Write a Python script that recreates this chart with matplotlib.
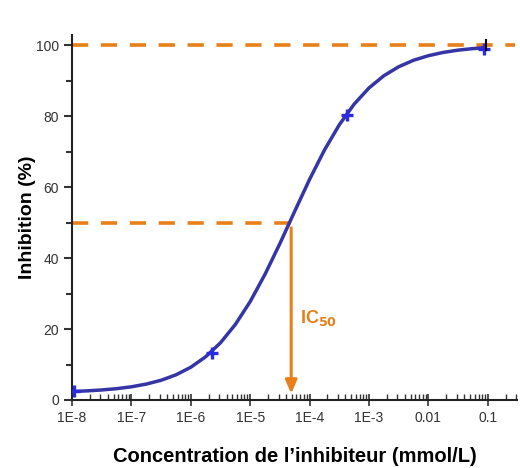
import matplotlib
matplotlib.use("Agg")
import matplotlib.pyplot as plt
from matplotlib.ticker import LogLocator, FixedLocator, NullFormatter

plt.rcParams['font.family'] = ['Liberation Sans', 'DejaVu Sans']

# measured points
conc_pts = [1.1e-8, 2.3e-6, 4.3e-4, 0.087]
inhib_pts = [2.4, 13.2, 80.3, 98.9]

# fitted curve (log10 concentration, % inhibition)
curve_logc = [-7.95, -7.75, -7.5, -7.25, -7.0, -6.75, -6.5, -6.25, -6.0, -5.75,
              -5.5, -5.25, -5.0, -4.75, -4.5, -4.25, -4.0, -3.75, -3.5, -3.25,
              -3.0, -2.75, -2.5, -2.25, -2.0, -1.75, -1.5, -1.25, -1.05]
curve_inhib = [2.42, 2.57, 2.83, 3.19, 3.72, 4.48, 5.56, 7.09, 9.23, 12.18,
               16.13, 21.28, 27.73, 35.43, 44.08, 53.19, 62.17, 70.41, 77.53, 83.35,
               87.91, 91.35, 93.88, 95.71, 97.0, 97.92, 98.56, 99.0, 99.26]

ic50 = 4.9e-5
half_level = 50
top_level = 100

xtick_vals = [1e-8, 1e-7, 1e-6, 1e-5, 1e-4, 1e-3, 1e-2, 1e-1]
xtick_labels = ['1E-8', '1E-7', '1E-6', '1E-5', '1E-4', '1E-3', '0.01', '0.1']
ytick_vals = [0, 20, 40, 60, 80, 100]

orange = '#e8801a'
line_blue = '#3535a5'
marker_blue = '#2a2ae0'

fig = plt.figure(figsize=(5.2, 4.68), dpi=100)
ax = fig.add_axes([0.1385, 0.1453, 0.994 - 0.1385, 0.925 - 0.1453])

ax.set_xscale('log')
ax.set_xlim(1e-8, 10 ** -0.51)
ax.set_ylim(0, 102.8)

# dashed reference lines
ax.plot([1e-8, 10 ** -0.55], [top_level, top_level], color=orange, lw=2.6,
        dashes=(4.5, 3.5), zorder=2)
ax.plot([1e-8, ic50], [half_level, half_level], color=orange, lw=2.6,
        dashes=(4.5, 3.5), zorder=2)

# arrow down to x axis
ax.annotate('', xy=(ic50, 1.8), xytext=(ic50, 48.5),
            arrowprops=dict(arrowstyle='-|>,head_length=0.8,head_width=0.35',
                            color=orange, lw=2.2, shrinkA=0, shrinkB=0), zorder=3)
ax.text(6.9e-5, 23, 'IC$_{\\mathbf{50}}$', color=orange, fontsize=13,
        fontweight='bold', ha='left', va='center')

# curve
ax.plot([10 ** v for v in curve_logc], curve_inhib, color=line_blue, lw=2.5,
        zorder=4, solid_joinstyle='round')
ax.plot(conc_pts, inhib_pts, linestyle='none', marker='+', ms=9, mew=2.4,
        color=marker_blue, zorder=5)
# error bar cap at last point
ax.plot([0.095, 0.095], [98.5, 101.5], color='black', lw=1.5, zorder=5)

for s in ['top', 'right']:
    ax.spines[s].set_visible(False)
for s in ['left', 'bottom']:
    ax.spines[s].set_linewidth(1.5)
    ax.spines[s].set_color('#222222')

ax.set_xticks(xtick_vals)
ax.set_xticklabels(xtick_labels)
ax.xaxis.set_minor_locator(LogLocator(base=10, subs=range(2, 10), numticks=20))
ax.xaxis.set_minor_formatter(NullFormatter())
ax.tick_params(axis='x', which='major', direction='inout', length=8, width=1.2,
               labelsize=10, labelcolor='#333333', color='#333333', pad=4)
ax.tick_params(axis='x', which='minor', direction='in', length=4, width=1.0,
               color='#333333')

ax.set_yticks(ytick_vals)
ax.yaxis.set_minor_locator(FixedLocator([10, 30, 50, 70, 90]))
ax.tick_params(axis='y', which='major', direction='out', length=6, width=1.5,
               labelsize=10, labelcolor='#333333', color='#333333')
ax.tick_params(axis='y', which='minor', direction='out', length=4, width=1.5,
               color='#333333')

ax.set_xlabel("Concentration de l\u2019inhibiteur (mmol/L)", fontsize=14.5,
              fontweight='bold', labelpad=16)
ax.set_ylabel("Inhibition (%)", fontsize=14, fontweight='bold', labelpad=0)

fig.savefig('out.png', dpi=100)
